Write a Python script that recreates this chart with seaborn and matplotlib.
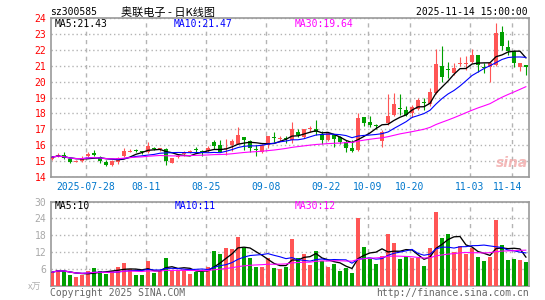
import numpy as np
import pandas as pd
import matplotlib
matplotlib.use('Agg')
import matplotlib.pyplot as plt
import seaborn as sns

# daily K-line for sz300585, 80 sessions up to 2025-11-14
opens = [15.15, 15.35, 15.40, 15.15, 14.97, 15.02, 15.30, 15.50, 15.25, 14.95,
         14.78, 14.97, 15.30, 15.60, 15.72, 15.58, 15.55, 15.85, 15.75, 15.75,
         14.88, 15.25, 15.42, 15.58, 15.72, 15.62, 15.65, 16.20, 16.00, 15.75,
         16.00, 16.10, 16.50, 16.25, 15.75, 15.60, 16.00, 16.50, 16.42, 16.42,
         16.35, 16.80, 16.50, 17.00, 17.00, 16.70, 16.33, 16.64, 16.50, 16.22,
         15.85, 15.70, 17.75, 17.45, 17.22, 16.28, 17.40, 17.90, 18.35, 18.20,
         18.00, 18.25, 18.72, 18.60, 19.30, 21.00, 20.78, 20.56, 21.08, 21.12,
         21.25, 21.65, 20.90, 20.92, 21.05, 23.10, 22.20, 21.90, 20.92, 21.05]
closes = [15.25, 15.38, 15.20, 14.95, 15.00, 15.15, 15.45, 15.38, 15.02, 14.78,
          15.00, 15.22, 15.62, 15.65, 15.65, 15.55, 15.92, 15.78, 15.78, 14.98,
          15.17, 15.32, 15.55, 15.62, 15.68, 15.58, 15.80, 15.98, 15.60, 15.85,
          16.25, 16.62, 16.35, 15.85, 15.70, 16.00, 16.55, 16.45, 16.48, 16.38,
          17.00, 16.65, 17.00, 17.05, 16.85, 16.33, 16.79, 16.37, 16.22, 15.80,
          15.66, 17.69, 17.40, 17.30, 17.18, 16.85, 17.84, 18.62, 18.30, 17.90,
          18.38, 18.85, 18.67, 19.37, 21.10, 20.30, 20.72, 20.83, 21.12, 21.15,
          21.70, 21.04, 20.88, 21.15, 23.05, 22.27, 21.95, 21.15, 21.15, 20.90]
highs = [15.35, 15.50, 15.60, 15.20, 15.05, 15.35, 15.60, 15.70, 15.30, 15.05,
         15.05, 15.28, 15.85, 15.75, 15.75, 15.65, 16.20, 15.90, 15.85, 15.80,
         15.20, 15.45, 15.62, 15.68, 15.88, 15.72, 15.95, 16.35, 16.30, 16.40,
         16.40, 17.12, 16.50, 16.35, 16.00, 16.05, 16.60, 16.80, 16.60, 16.55,
         17.48, 17.05, 17.05, 17.20, 17.60, 16.90, 16.82, 16.64, 16.55, 16.35,
         16.30, 18.00, 17.75, 17.85, 17.35, 16.95, 19.20, 19.26, 19.20, 18.45,
         18.55, 19.00, 19.00, 19.58, 22.03, 22.24, 21.25, 21.15, 21.57, 21.60,
         22.05, 21.67, 21.15, 21.20, 23.70, 23.50, 22.60, 21.95, 21.20, 21.05]
lows = [15.05, 15.25, 15.15, 14.85, 14.93, 14.95, 15.25, 15.30, 14.85, 14.72,
        14.70, 14.80, 15.25, 15.55, 15.60, 15.45, 15.50, 15.70, 15.65, 14.78,
        14.85, 15.20, 15.35, 15.50, 15.50, 15.35, 15.60, 15.75, 15.55, 15.40,
        15.65, 16.05, 15.70, 15.60, 15.30, 15.50, 15.85, 16.20, 16.25, 16.15,
        16.12, 16.50, 16.45, 16.85, 16.64, 16.10, 16.25, 15.87, 16.05, 15.60,
        15.60, 15.65, 17.20, 17.15, 17.05, 15.90, 17.30, 17.85, 17.90, 17.85,
        17.80, 18.20, 18.20, 18.46, 19.25, 20.00, 20.20, 20.42, 20.98, 20.75,
        21.15, 20.62, 20.55, 20.00, 20.95, 22.00, 21.70, 20.90, 20.67, 20.40]
volumes = [4.9, 5.8, 5.3, 3.9, 3.2, 3.9, 5.4, 6.4, 5.3, 4.2,
           5.3, 6.7, 8.1, 6.0, 3.9, 3.9, 8.8, 4.6, 5.4, 9.9,
           5.5, 5.8, 5.8, 4.4, 5.1, 5.1, 6.7, 12.4, 11.4, 13.4,
           13.1, 17.4, 13.6, 10.0, 6.8, 6.8, 10.0, 6.5, 6.1, 6.8,
           16.7, 10.0, 11.2, 7.4, 12.4, 8.8, 6.7, 7.9, 5.3, 6.5,
           4.7, 24.1, 13.8, 9.6, 7.9, 10.6, 18.5, 15.2, 9.5, 10.8,
           10.0, 10.0, 7.1, 13.5, 26.2, 17.1, 18.5, 12.0, 14.1, 11.2,
           13.5, 10.4, 8.8, 10.4, 23.3, 14.6, 9.2, 9.5, 9.2, 8.5]
tick_pos = [6, 16, 26, 36, 46, 53, 60, 70, 77]
tick_labels = ['2025-07-28', '08-11', '08-25', '09-08', '09-22',
               '10-09', '10-20', '11-03', '11-14']

df = pd.DataFrame({'open': opens, 'close': closes, 'high': highs,
                   'low': lows, 'volume': volumes})
df['idx'] = np.arange(len(df))
df['dir'] = np.where(df['close'] >= df['open'], 'up', 'down')
for n in (5, 10, 30):
    df[f'ma{n}'] = df['close'].rolling(n, min_periods=1).mean()
    df[f'vma{n}'] = df['volume'].rolling(n, min_periods=1).mean()

sns.set_theme(style='white')
plt.rcParams['font.family'] = ['DejaVu Sans Mono', 'Noto Sans CJK SC']

red, green = '#ff5555', '#00a000'
ma_colors = {5: 'black', 10: '#0000ff', 30: '#ff00ff'}
ma_lw = {5: 0.95, 10: 0.8, 30: 0.8}
pal = {'up': red, 'down': green}
grid_c = '#b4b4b4'
W, H = 545, 300

fig = plt.figure(figsize=(W / 100, H / 100), dpi=100)
ax = fig.add_axes([50.5 / W, 1 - 177 / H, 478.5 / W, 159 / H])
axv = fig.add_axes([50.5 / W, 1 - 286 / H, 478.5 / W, 84.5 / H])

# --- price panel ---
cols = df['dir'].map(pal)
ax.vlines(df['idx'], df['low'], df['high'], colors=cols, lw=0.8, zorder=3)
body_lo = np.minimum(df['open'], df['close'])
body_h = np.maximum((df['close'] - df['open']).abs(), 0.06)
ax.bar(df['idx'], body_h, bottom=body_lo, width=0.82, color=cols, linewidth=0, zorder=4)
for n in (5, 10, 30):
    sns.lineplot(x=df['idx'], y=df[f'ma{n}'], color=ma_colors[n], lw=ma_lw[n], ax=ax, zorder=5)

# --- volume panel ---
sns.barplot(data=df, x='idx', y='volume', hue='dir', palette=pal, dodge=False,
            width=0.82, saturation=1, legend=False, native_scale=True, ax=axv,
            linewidth=0, zorder=3)
for n in (5, 10, 30):
    sns.lineplot(x=df['idx'], y=df[f'vma{n}'], color=ma_colors[n], lw=ma_lw[n], ax=axv, zorder=5)

grid_x = [p - 0.33 for p in tick_pos]
for a, ylim, yt in ((ax, (14, 24), range(14, 25)), (axv, (0, 30), range(6, 31, 6))):
    a.set_xlim(-0.25, 79.5)
    a.set_ylim(*ylim)
    a.set_xticks(grid_x)
    a.set_xticklabels([])
    a.set_yticks(list(yt))
    a.set_xlabel('')
    a.set_ylabel('')
    a.tick_params(length=0, pad=3, labelsize=7)
    a.grid(axis='x', color=grid_c, lw=1, ls=(0, (3, 3)))
    a.grid(axis='y', color=grid_c, lw=1, ls=(0, (1, 2)))
    for s in a.spines.values():
        s.set_color('#999999')
        s.set_linewidth(1.2)
    a.set_axisbelow(True)

for lab in ax.get_yticklabels():
    lab.set_color('red')
for lab in axv.get_yticklabels():
    lab.set_color('#a8a8a8')

# date labels between the panels
for p, t in zip(tick_pos, tick_labels):
    xp = p - 1 if t == '11-14' else p - 0.33
    ax.text(xp, -0.065, t, transform=ax.get_xaxis_transform(), ha='center', va='center',
            fontsize=7, color='#0077cc')

def ftext(x, y, s, **kw):
    fig.text(x / W, 1 - y / H, s, va='center', **kw)

ftext(50, 12, 'sz300585', fontsize=7, color='black')
ftext(121, 12, '奥联电子 - 日K线图', fontsize=8, color='black',
      family=['Noto Sans CJK SC', 'DejaVu Sans'])
ftext(528, 12, '2025-11-14 15:00:00', fontsize=7, color='black', ha='right')

ftext(55, 24, 'MA5:21.43', fontsize=7, color=ma_colors[5])
ftext(174, 24, 'MA10:21.47', fontsize=7, color=ma_colors[10])
ftext(295, 24, 'MA30:19.64', fontsize=7, color=ma_colors[30])
ftext(55, 206, 'MA5:10', fontsize=7, color=ma_colors[5])
ftext(175, 206, 'MA10:11', fontsize=7, color=ma_colors[10])
ftext(295, 206, 'MA30:12', fontsize=7, color=ma_colors[30])

ftext(512, 163, 'sina', fontsize=10, color='#f2a8a8', ha='center', style='italic',
      weight='bold', family='DejaVu Sans', alpha=0.8)
ftext(28, 287, 'x万', fontsize=6.5, color='#b0b0b0', family=['Noto Sans CJK SC'])
ftext(50, 293, 'Copyright 2025 SINA.COM', fontsize=7, color='#666666')
ftext(529, 293, 'http://finance.sina.com.cn', fontsize=7, color='#666666', ha='right')

fig.savefig('out.png', dpi=100)
